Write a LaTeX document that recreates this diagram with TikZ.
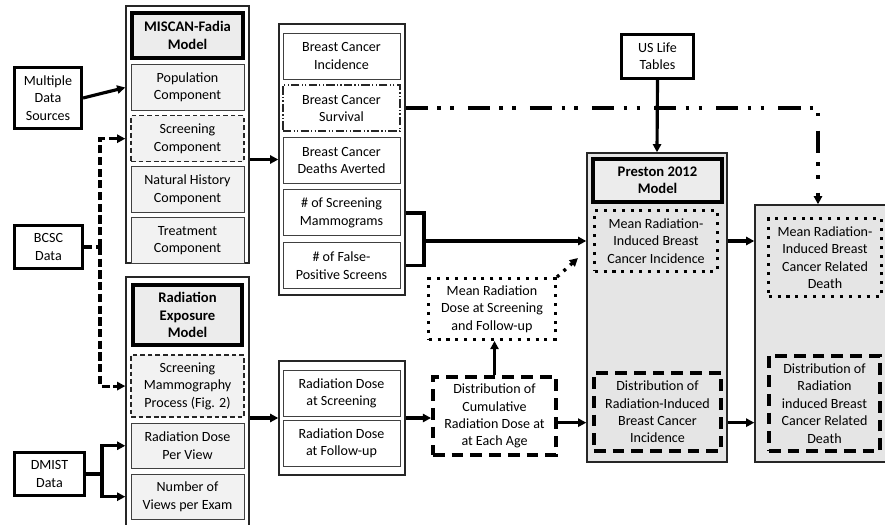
\documentclass[tikz,border=0pt]{standalone}
\usepackage{fontspec}
\setmainfont{Carlito}
\usetikzlibrary{positioning, arrows.meta}

\begin{document}
\begin{tikzpicture}[
    x=0.03cm, y=-0.03cm,
    every node/.style={align=center, inner sep=1pt, font=\fontsize{12}{14.8}\selectfont},
    >={Triangle[length=7pt, width=7pt]},
    link/.style={line width=2.7pt},
    holder/.style={draw=black!85, line width=1.2pt},
    datasrc/.style={draw, line width=2.4pt, fill=white, minimum width=2.05cm, minimum height=1.3cm},
    header/.style={draw, line width=3.2pt, fill=gray!15, font=\fontsize{12.5}{14.8}\selectfont\bfseries},
    comp/.style={draw=black!75, line width=0.8pt, fill=gray!10, minimum width=3.39cm, minimum height=1.38cm},
    output/.style={draw=black!75, line width=0.8pt, fill=white, minimum width=3.51cm, minimum height=1.38cm},
    thindash/.style={draw=black!85, line width=1.2pt, dash pattern=on 4pt off 2.5pt},
    bigdash/.style={draw, line width=3pt, dash pattern=on 10pt off 6pt},
    bigdot/.style={draw, line width=2.8pt, dash pattern=on 2.6pt off 5pt},
    dashlink/.style={dash pattern=on 7pt off 3pt},
    dashdotdot/.style={line width=3pt, dash pattern=on 19pt off 8pt on 3pt off 8pt on 3pt off 12pt}
]
   \useasboundingbox (0,0) rectangle (885,524);
   \clip (0,0) rectangle (885,524);

   % Containers
   \node[holder, minimum width=3.69cm, minimum height=7.71cm] (miscan) at (187.5,134.5) {};
   \node[holder, minimum width=3.69cm, minimum height=7.59cm] (rexp) at (187.5,403.5) {};
   \node[holder, minimum width=3.78cm, minimum height=8.13cm] (outs) at (342,159.5) {};
   \node[holder, minimum width=3.78cm, minimum height=3.42cm] (rdose) at (342,418) {};
   \node[holder, fill=gray!20, minimum width=4.2cm, minimum height=9.27cm] (pres) at (657,307.5) {};
   \node[holder, fill=gray!20, minimum width=4.2cm, minimum height=7.71cm] (rcont) at (825,333.5) {};

   % Data sources
   \node[datasrc, minimum width=2.02cm, minimum height=1.84cm] (mds) at (48,98) {Multiple\\Data\\Sources};
   \node[datasrc] (bcsc) at (48.5,247) {BCSC\\Data};
   \node[datasrc, minimum width=2.11cm] (dmist) at (49.5,474) {DMIST\\Data};
   \node[datasrc, minimum width=2.17cm, minimum height=1.33cm] (uslt) at (657.5,56.5) {US Life\\Tables};

   % MISCAN-Fadia model
   \node[header, minimum width=3.34cm, minimum height=1.36cm] (mtitle) at (187.5,35.5) {MISCAN-Fadia\\Model};
   \node[comp] (pop) [below=0.12cm of mtitle] {Population\\Component};
   \node[comp, thindash] (scrcomp) [below=0.12cm of pop] {Screening\\Component};
   \node[comp] (nathist) [below=0.12cm of scrcomp] {Natural History\\Component};
   \node[comp] (treat) [below=0.12cm of nathist] {Treatment\\Component};

   % Radiation exposure model
   \node[header, minimum width=3.28cm, minimum height=1.81cm] (rtitle) at (187.5,315) {Radiation\\Exposure\\Model};
   \node[comp, thindash, minimum height=1.86cm] (smp) [below=0.22cm of rtitle] {Screening\\Mammography\\Process (Fig. 2)};
   \node[comp, minimum height=1.35cm] (rdpv) [below=0.15cm of smp] {Radiation Dose\\Per View};
   \node[comp, minimum height=1.35cm] (nviews) [below=0.15cm of rdpv] {Number of\\Views per Exam};

   % Outputs of MISCAN-Fadia
   \node[output] (inc) at (341.5,56) {Breast Cancer\\Incidence};
   \node[output, draw=black!85, line width=1.2pt, dash pattern=on 7pt off 2pt on 1pt off 2pt on 1pt off 2pt] (surv) [below=0.15cm of inc] {Breast Cancer\\Survival};
   \node[output] (avert) [below=0.15cm of surv] {Breast Cancer\\Deaths Averted};
   \node[output] (mammo) [below=0.17cm of avert] {\# of Screening\\Mammograms};
   \node[output] (fpos) [below=0.17cm of mammo] {\# of False-\\Positive Screens};

   % Outputs of radiation exposure
   \node[output] (dscr) at (341.5,393.5) {Radiation Dose\\at Screening};
   \node[output] (dfol) [below=0.09cm of dscr] {Radiation Dose\\at Follow-up};

   % Dose summaries
   \node[bigdot, fill=white, minimum width=3.8cm, minimum height=1.82cm] (mdose) at (492,309) {Mean Radiation\\Dose at Screening\\and Follow-up};
   \node[bigdash, fill=white, minimum width=3.7cm, minimum height=2.35cm] (dist) at (494.5,416) {Distribution of\\Cumulative\\Radiation Dose at\\at Each Age};

   % Preston 2012 model
   \node[header, minimum width=3.88cm, minimum height=1.3cm] (ptitle) at (657.5,180.5) {Preston 2012\\Model};
   \node[bigdot, minimum width=3.68cm, minimum height=1.82cm] (pmean) at (656,241) {Mean Radiation-\\Induced Breast\\Cancer Incidence};
   \node[bigdash, minimum width=3.82cm, minimum height=2.35cm] (pdist) at (657.5,412) {Distribution of\\Radiation-Induced\\Breast Cancer\\Incidence};

   % Related death
   \node[bigdot, minimum width=3.38cm, minimum height=2.33cm] (mdeath) at (825,257.5) {Mean Radiation-\\Induced Breast\\Cancer Related\\Death};
   \node[bigdash, minimum width=3.34cm, minimum height=2.86cm] (ddeath) at (824.5,403.5) {Distribution of\\Radiation\\induced Breast\\Cancer Related\\Death};

   % Helper coordinates
   \coordinate (bc) at (100,0);
   \coordinate (dm) at (102,0);
   \coordinate (brk) at (424,0);
   \coordinate (ddc) at (818,0);
   \coordinate (mdtip) at (578,258);
   \coordinate (lowlink) at ([yshift=-0.2cm]dist.east);

   % Data inputs
   \draw[link, ->] (mds.east) -- (pop -| miscan.west);
   \draw[link, dashlink] (bcsc.east) -- (bcsc.east -| bc);
   \draw[link, dashlink, ->] (bcsc.east -| bc) |- (scrcomp -| miscan.west);
   \draw[link, dashlink, ->] (bcsc.east -| bc) |- (smp -| rexp.west);
   \draw[link] (dmist.east) -- (dmist.east -| dm);
   \draw[link, ->] (dmist.east -| dm) |- (rdpv -| rexp.west);
   \draw[link, ->] (dmist.east -| dm) |- (nviews -| rexp.west);

   % Model outputs
   \draw[link, ->] (outs -| miscan.east) -- (outs.west);
   \draw[link, ->] (rdose -| rexp.east) -- (rdose.west);
   \draw[link, ->] (rdose.east) -- (rdose.east -| dist.west);
   \draw[link, ->] (dist.north) -- (dist.north |- mdose.south);
   \draw[link, bigdot, ->] (mdose.north east) -- (mdtip);

   % Screening counts into Preston
   \draw[link] (mammo -| outs.east) -- (mammo -| brk) -- (fpos -| brk) -- (fpos -| outs.east);
   \draw[link, ->] (brk |- pmean) -- (pres.west |- pmean);

   % Survival to related death
   \draw[dashdotdot, ->] (surv -| outs.east) -- (surv -| ddc) -- (ddc |- rcont.north);
   \draw[link, ->] (uslt.south) -- (pres.north);

   % Preston to related death
   \draw[link, ->] (lowlink) -- (lowlink -| pres.west);
   \draw[link, ->] (pres.east |- pmean) -- (rcont.west |- pmean);
   \draw[link, ->] (lowlink -| pres.east) -- (lowlink -| rcont.west);
\end{tikzpicture}
\end{document}
